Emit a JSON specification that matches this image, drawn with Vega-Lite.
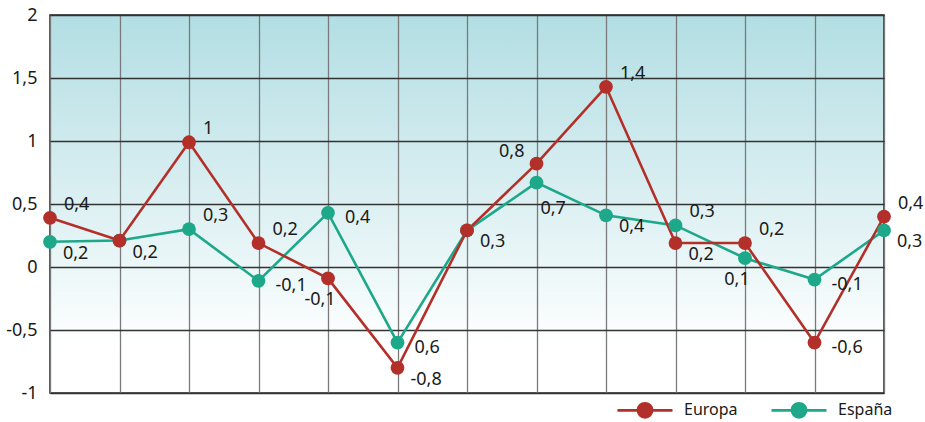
{
  "$schema": "https://vega.github.io/schema/vega-lite/v6.json",
  "width": 834,
  "height": 378,
  "autosize": {"type": "none"},
  "padding": {"left": 50, "top": 15, "right": 41, "bottom": 29},
  "background": "white",
  "view": {
    "stroke": "#222222",
    "strokeWidth": 1.5,
    "fill": {
      "gradient": "linear",
      "x1": 0, "y1": 0, "x2": 0, "y2": 1,
      "stops": [
        {"offset": 0, "color": "#b2dee3"},
        {"offset": 0.45, "color": "#d8eef1"},
        {"offset": 0.7, "color": "#eef8f9"},
        {"offset": 0.88, "color": "#ffffff"},
        {"offset": 1, "color": "#ffffff"}
      ]
    }
  },
  "config": {
    "locale": {"number": {"decimal": ",", "thousands": ".", "grouping": [3], "currency": ["", " €"], "minus": "-"}},
    "font": "Noto Sans",
    "text": {"font": "Noto Sans", "fontSize": 18, "color": "#1a1a1a"}
  },
  "data": {
    "values": [
      {"x": 0, "serie": "España", "valor": 0.2, "etiqueta": "0,2"},
      {"x": 1, "serie": "España", "valor": 0.21, "etiqueta": "0,2"},
      {"x": 2, "serie": "España", "valor": 0.3, "etiqueta": "0,3"},
      {"x": 3, "serie": "España", "valor": -0.11, "etiqueta": "-0,1"},
      {"x": 4, "serie": "España", "valor": 0.43, "etiqueta": "0,4"},
      {"x": 5, "serie": "España", "valor": -0.6, "etiqueta": "0,6"},
      {"x": 6, "serie": "España", "valor": 0.29, "etiqueta": "0,3"},
      {"x": 7, "serie": "España", "valor": 0.67, "etiqueta": "0,7"},
      {"x": 8, "serie": "España", "valor": 0.41, "etiqueta": "0,4"},
      {"x": 9, "serie": "España", "valor": 0.33, "etiqueta": "0,3"},
      {"x": 10, "serie": "España", "valor": 0.07, "etiqueta": "0,1"},
      {"x": 11, "serie": "España", "valor": -0.1, "etiqueta": "-0,1"},
      {"x": 12, "serie": "España", "valor": 0.29, "etiqueta": "0,3"},
      {"x": 0, "serie": "Europa", "valor": 0.39, "etiqueta": "0,4"},
      {"x": 1, "serie": "Europa", "valor": 0.21, "etiqueta": "0,2"},
      {"x": 2, "serie": "Europa", "valor": 0.99, "etiqueta": "1"},
      {"x": 3, "serie": "Europa", "valor": 0.19, "etiqueta": "0,2"},
      {"x": 4, "serie": "Europa", "valor": -0.09, "etiqueta": "-0,1"},
      {"x": 5, "serie": "Europa", "valor": -0.8, "etiqueta": "-0,8"},
      {"x": 6, "serie": "Europa", "valor": 0.29, "etiqueta": "0,3"},
      {"x": 7, "serie": "Europa", "valor": 0.82, "etiqueta": "0,8"},
      {"x": 8, "serie": "Europa", "valor": 1.43, "etiqueta": "1,4"},
      {"x": 9, "serie": "Europa", "valor": 0.19, "etiqueta": "0,2"},
      {"x": 10, "serie": "Europa", "valor": 0.19, "etiqueta": "0,2"},
      {"x": 11, "serie": "Europa", "valor": -0.6, "etiqueta": "-0,6"},
      {"x": 12, "serie": "Europa", "valor": 0.4, "etiqueta": "0,4"}
    ]
  },
  "encoding": {
    "x": {
      "field": "x", "type": "quantitative",
      "scale": {"domain": [0, 12], "nice": false, "zero": false},
      "axis": {"title": null, "labels": false, "ticks": false, "domain": false, "grid": true, "values": [0,1,2,3,4,5,6,7,8,9,10,11,12], "gridColor": "#7a7a7a", "gridWidth": 1.3, "gridOpacity": 1}
    },
    "y": {
      "field": "valor", "type": "quantitative",
      "scale": {"domain": [-1, 2], "nice": false, "zero": false},
      "axis": {"title": null, "values": [-1, -0.5, 0, 0.5, 1, 1.5, 2], "format": "~g", "ticks": false, "domain": false, "grid": true, "gridColor": "#333333", "gridWidth": 1.3, "gridOpacity": 1, "labelFontSize": 18, "labelColor": "#1a1a1a", "labelPadding": 13, "labelFont": "Noto Sans"}
    }
  },
  "layer": [
    {
      "mark": {"type": "line", "strokeWidth": 2.6},
      "encoding": {
        "color": {
          "field": "serie", "type": "nominal",
          "scale": {"domain": ["Europa", "España"], "range": ["#b3302a", "#1ea88a"]},
          "legend": {
            "title": null, "orient": "none", "direction": "horizontal", "columns": 2,
            "legendX": 566, "legendY": 366,
            "symbolType": "M-1,0H1M-0.26,0A0.26,0.26,0,1,1,0.26,0A0.26,0.26,0,1,1,-0.26,0Z",
            "symbolSize": 3025, "symbolStrokeWidth": 2.6,
            "labelFontSize": 16, "labelFont": "Noto Sans", "labelColor": "#1a1a1a", "labelOffset": 10,
            "columnPadding": 28
          }
        }
      }
    },
    {
      "mark": {"type": "point", "filled": true, "size": 190, "opacity": 1},
      "encoding": {"color": {"field": "serie", "type": "nominal"}}
    },
    {
      "transform": [{"filter": "indexof(['Europa0','Europa2','Europa3','Europa8','Europa10','Europa12','España2','España9'], datum.serie + datum.x) >= 0"}],
      "mark": {"type": "text", "align": "left", "baseline": "middle", "dx": 14, "dy": -13},
      "encoding": {"text": {"field": "etiqueta"}}
    },
    {
      "transform": [{"filter": "indexof(['Europa1','Europa5','Europa6','Europa9','España0','España8','España12'], datum.serie + datum.x) >= 0"}],
      "mark": {"type": "text", "align": "left", "baseline": "middle", "dx": 13, "dy": 12},
      "encoding": {"text": {"field": "etiqueta"}}
    },
    {
      "transform": [{"filter": "indexof(['Europa11','España3','España4','España5','España11'], datum.serie + datum.x) >= 0"}],
      "mark": {"type": "text", "align": "left", "baseline": "middle", "dx": 17, "dy": 5},
      "encoding": {"text": {"field": "etiqueta"}}
    },
    {
      "transform": [{"filter": "indexof(['Europa7'], datum.serie + datum.x) >= 0"}],
      "mark": {"type": "text", "align": "right", "baseline": "middle", "dx": -12, "dy": -12},
      "encoding": {"text": {"field": "etiqueta"}}
    },
    {
      "transform": [{"filter": "indexof(['Europa4','España10'], datum.serie + datum.x) >= 0"}],
      "mark": {"type": "text", "align": "center", "baseline": "middle", "dx": -8, "dy": 22},
      "encoding": {"text": {"field": "etiqueta"}}
    },
    {
      "transform": [{"filter": "indexof(['España7'], datum.serie + datum.x) >= 0"}],
      "mark": {"type": "text", "align": "left", "baseline": "middle", "dx": 4, "dy": 26},
      "encoding": {"text": {"field": "etiqueta"}}
    }
  ]
}
